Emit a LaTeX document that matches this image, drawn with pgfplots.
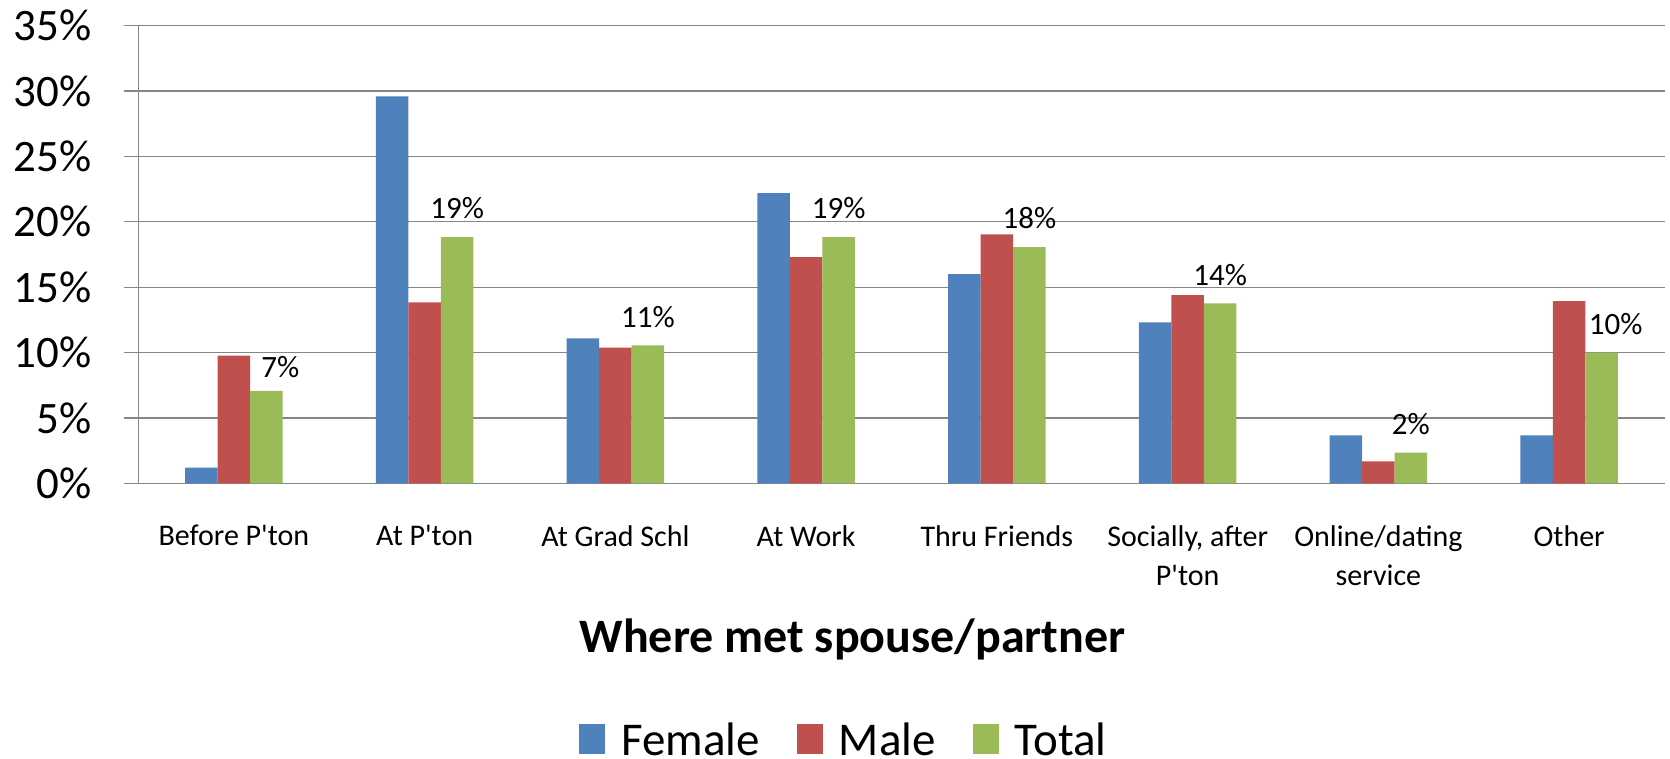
\documentclass[border=0pt]{standalone}
\usepackage{pgfplots}
\pgfplotsset{compat=1.18}
\usepackage{fontspec}
\setmainfont{Carlito}[Ligatures=TeXOff]
\definecolor{cblue}{HTML}{4F81BD}
\definecolor{cred}{HTML}{C0504D}
\definecolor{cgreen}{HTML}{9BBB59}
\definecolor{cgrid}{HTML}{868686}
\pgfplotstableread{
x y dx dy
0 7.06 7 -2.5
1 18.83 0 0
2 10.55 0 0
3 18.83 0 0
4 18.07 0 0
5 13.76 0 0
6 2.34 0 0
7 9.99 7 0
}\totaldata
\begin{document}
\begin{tikzpicture}
\begin{axis}[
  scale only axis,
  width=763pt, height=228.8pt,
  ybar=0pt, bar width=16.25pt,
  xmin=-0.5, xmax=7.5, ymin=0, ymax=35,
  axis x line*=bottom, axis y line*=left,
  axis line style={draw=cgrid, line width=0.7pt, -},
  /pgf/number format/assume math mode=true,
  ytick={0,5,...,35},
  yticklabel={\pgfmathprintnumber{\tick}\%},
  yticklabel style={font=\fontsize{22.5}{22.5}\selectfont, xshift=-13pt},
  ymajorgrids, grid style={draw=cgrid, line width=0.6pt},
  y tick style={draw=cgrid, line width=0.6pt},
  tick align=outside, major tick length=7pt,
  xtick={0,...,7},
  xticklabels={Before P'ton, At P'ton, At Grad Schl, At Work, Thru Friends, {Socially, after\\P'ton}, {Online/dating\\service}, Other},
  xticklabel style={font=\fontsize{15}{19.5}\selectfont, align=center, anchor=north, yshift=-10.5pt},
  x tick style={draw=none},
  extra x ticks={-0.5,0.5,...,7.5},
  extra x tick labels={},
  extra x tick style={grid=none, tick style={draw=cgrid, line width=0.6pt}, major tick length=5pt},
  xlabel={\bfseries Where met spouse/partner},
  xlabel style={font=\fontsize{24}{24}\selectfont, at={(axis description cs:0.468,-0.3708)}, anchor=base},
  legend columns=3,
  legend style={at={(axis description cs:0.463,-0.595)}, anchor=south, draw=none, fill=none, inner sep=0pt,
    font=\fontsize{23.5}{23.5}\selectfont,
    nodes={inner ysep=0pt, text depth=0pt},
    /tikz/every odd column/.append style={column sep=6pt},
    /tikz/every even column/.append style={column sep=16.5pt}},
  legend image code/.code={\fill[#1] (0pt,-7.5pt) rectangle (13pt,7.5pt);},
]
\addplot[fill=cblue, draw=none] coordinates {(0,1.19) (1,29.6) (2,11.08) (3,22.2) (4,16.0) (5,12.31) (6,3.67) (7,3.67)};
\addplot[fill=cred, draw=none] coordinates {(0,9.76) (1,13.84) (2,10.37) (3,17.3) (4,19.04) (5,14.4) (6,1.68) (7,13.94)};
\addplot[fill=cgreen, draw=none,
  visualization depends on={\thisrow{dx} \as \dx},
  visualization depends on={\thisrow{dy} \as \dy},
  nodes near coords={\pgfmathprintnumber[fixed,precision=0]{\pgfplotspointmeta}\%}, point meta=y,
  nodes near coords style={font=\fontsize{15.5}{15.5}\selectfont, text=black, xshift=\dx pt, yshift=5.5pt+\dy pt}] table[x=x,y=y] {\totaldata};
\legend{Female, Male, Total}
\end{axis}
\pgfresetboundingbox
\useasboundingbox ([xshift=-69.25pt,yshift=-137.35pt]current axis.south west) rectangle ([xshift=2.75pt,yshift=12.85pt]current axis.north east);
\end{tikzpicture}
\end{document}
